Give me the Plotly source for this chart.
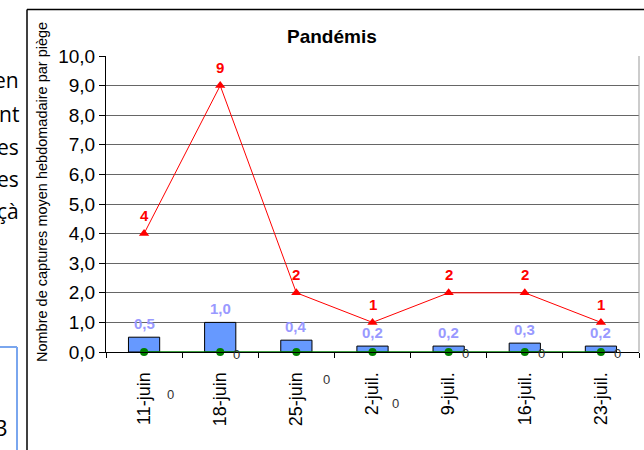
import plotly.graph_objects as go

# ---- data ----
categories = ["11-juin", "18-juin", "25-juin", "2-juil.", "9-juil.", "16-juil.", "23-juil."]
mean_captures = [0.5, 1.0, 0.4, 0.2, 0.2, 0.3, 0.2]
max_captures = [4, 9, 2, 1, 2, 2, 1]
min_captures = [0, 0, 0, 0, 0, 0, 0]
y_ticks = [0, 1, 2, 3, 4, 5, 6, 7, 8, 9, 10]
title_text = "Pandémis"
y_title = "Nombre de captures moyen hebdomadaire par piège"
side_text = ["en", "nt", "es", "es", "çà"]

# ---- layout geometry (pixels) ----
W, H = 644, 450
L, R, T, B = 106, 5, 56, 98
PW, PH = W - L - R, H - T - B


def px(x):
    return (x - L) / PW


def py(y):
    return (H - B - y) / PH


# offsets (px) of the zero labels relative to their points (as in the source)
zero_label_offsets = [(26, -42), (16, -2), (30, -27), (23, -51), (17, -1), (17, -1), (17, -1)]

fig = go.Figure()

fig.add_trace(go.Bar(
    x=categories, y=mean_captures,
    marker=dict(color="#6699FF", line=dict(color="#000000", width=1)),
    width=0.41, hoverinfo="skip",
))
fig.add_trace(go.Scatter(
    x=categories, y=max_captures, mode="lines+markers",
    line=dict(color="#FF0000", width=1),
    marker=dict(symbol="triangle-up", size=9, color="#FF0000"),
))
fig.add_trace(go.Scatter(
    x=categories, y=min_captures, mode="lines+markers",
    line=dict(color="#008000", width=1.5),
    marker=dict(symbol="circle", size=8, color="#008000"),
    cliponaxis=False,
))

annotations = []
for c, v in zip(categories, mean_captures):
    annotations.append(dict(
        x=c, y=v, xref="x", yref="y", text=f"{v:.1f}".replace(".", ","),
        showarrow=False, yshift=14, yanchor="middle",
        font=dict(family="Liberation Sans, Arial", size=15, color="#9999FF", weight="bold"),
    ))
for c, v in zip(categories, max_captures):
    annotations.append(dict(
        x=c, y=v, xref="x", yref="y", text=str(v),
        showarrow=False, yshift=18, yanchor="middle",
        font=dict(family="Liberation Sans, Arial", size=15, color="#FF0000", weight="bold"),
    ))
for c, v, (dx, dy) in zip(categories, min_captures, zero_label_offsets):
    annotations.append(dict(
        x=c, y=v, xref="x", yref="y", text=str(v),
        showarrow=False, xshift=dx, yshift=dy, yanchor="middle",
        font=dict(family="Liberation Sans, Arial", size=13, color="#333333"),
    ))

# title
annotations.append(dict(
    x=px(332), y=py(37), xref="paper", yref="paper", text=title_text,
    showarrow=False, xanchor="center", yanchor="middle",
    font=dict(family="Liberation Sans, Arial", size=19, color="#000000", weight="bold"),
))
# y axis title
annotations.append(dict(
    x=px(42), y=py(192), xref="paper", yref="paper", text=y_title,
    showarrow=False, textangle=-90, xanchor="center", yanchor="middle",
    font=dict(family="Liberation Sans, Arial", size=14.5, color="#000000"),
))
# surrounding document fragments
for t, yy in zip(side_text, [80, 114, 147, 179, 211]):
    annotations.append(dict(
        x=px(21), y=py(yy), xref="paper", yref="paper", text=t,
        showarrow=False, xanchor="right", yanchor="middle",
        font=dict(family="Open Sans", size=21, color="#000000"),
    ))
annotations.append(dict(
    x=px(10), y=py(427), xref="paper", yref="paper", text="3",
    showarrow=False, xanchor="right", yanchor="middle",
    font=dict(family="Open Sans", size=22, color="#000000"),
))

shapes = [
    # right border of plot area
    dict(type="line", xref="paper", yref="paper", x0=1, x1=1, y0=0, y1=1,
         line=dict(color="#999999", width=1)),
    # outer chart frame
    dict(type="line", xref="paper", yref="paper", x0=px(27), x1=px(W + 5), y0=py(9.5), y1=py(9.5),
         line=dict(color="#000000", width=1.5)),
    dict(type="line", xref="paper", yref="paper", x0=px(27), x1=px(27), y0=py(9.5), y1=py(H + 5),
         line=dict(color="#000000", width=1.5)),
    # blue text box of the document
    dict(type="line", xref="paper", yref="paper", x0=px(-5), x1=px(17), y0=py(347), y1=py(347),
         line=dict(color="#7AA6EE", width=2)),
    dict(type="line", xref="paper", yref="paper", x0=px(17), x1=px(17), y0=py(347), y1=py(H + 5),
         line=dict(color="#7AA6EE", width=2)),
]

fig.update_layout(
    width=W, height=H,
    margin=dict(l=L, r=R, t=T, b=B, autoexpand=False),
    paper_bgcolor="#FFFFFF", plot_bgcolor="#FFFFFF",
    showlegend=False, separators=", ",
    bargap=0.59,
    annotations=annotations, shapes=shapes,
    font=dict(family="Liberation Sans, Arial", color="#000000"),
)
fig.update_xaxes(
    type="category", categoryorder="array", categoryarray=categories,
    showgrid=False, showline=True, linecolor="#000000", linewidth=1,
    ticks="outside", ticklen=5, tickcolor="#000000", tickson="boundaries",
    tickangle=-90, tickfont=dict(size=18, color="#000000"),
    ticklabelstandoff=12,
)
fig.update_yaxes(
    range=[0, 10], tickvals=y_ticks, tickformat=".1f",
    showgrid=True, gridcolor="#666666", gridwidth=1,
    showline=True, linecolor="#000000", linewidth=1,
    ticks="outside", ticklen=6, tickcolor="#000000",
    tickfont=dict(size=19, color="#000000"), zeroline=False,
)

fig.write_html(
    "out.html",
    config={"displayModeBar": False},
    post_script="document.body.style.margin='0px';document.body.style.overflow='hidden';",
)
